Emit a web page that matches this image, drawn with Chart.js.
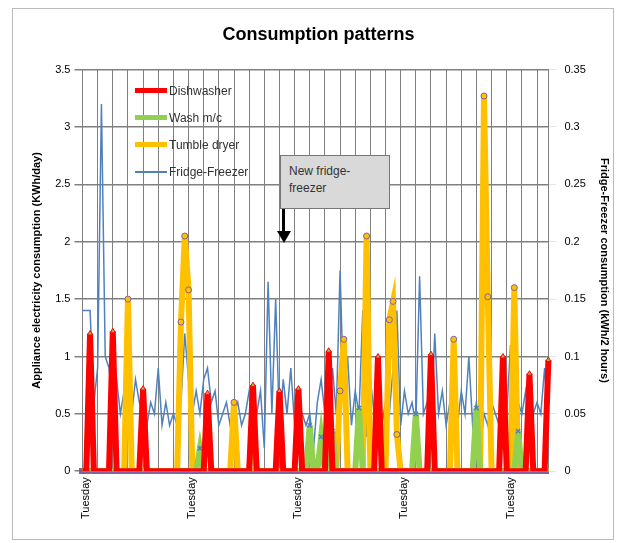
<!DOCTYPE html>
<html>
<head>
<meta charset="utf-8">
<script src="https://cdn.jsdelivr.net/npm/chart.js@4/dist/chart.umd.min.js"></script>
<style>
  body { margin: 0; background: #fff; }
  #wrap { position: relative; width: 619px; height: 543px; }
  #frame { position: absolute; left: 12px; top: 8px; width: 600px; height: 530px; border: 1px solid #bbb; pointer-events: none; }
  #note { position: absolute; left: 280px; top: 155px; width: 110px; height: 54px; background: #d9d9d9;
          border: 1px solid #777; font: 12px "Liberation Sans", Arial, sans-serif; color: #333; padding: 7px 8px; box-sizing: border-box; line-height: 17px; }
  #arrow { position: absolute; left: 282px; top: 209px; width: 3px; height: 24px; background: #000; }
  #head { position: absolute; left: 277px; top: 231px; width: 0; height: 0; border-left: 7px solid transparent;
          border-right: 7px solid transparent; border-top: 12px solid #000; }
  #legend { position: absolute; left: 135px; top: 77px; font: 12px "Liberation Sans", Arial, sans-serif; color: #333; }
  #legend div { height: 27px; display: flex; align-items: center; }
  #legend span.sw { display: inline-block; width: 32px; height: 5px; margin-right: 2px; }
</style>
</head>
<body>
<div id="wrap">
<canvas id="chart-1" width="619" height="543"></canvas>
<div id="frame"></div>
<div id="legend">
  <div><span class="sw" style="background:#ff0000"></span>Dishwasher</div>
  <div><span class="sw" style="background:#92d050"></span>Wash m/c</div>
  <div><span class="sw" style="background:#ffc000"></span>Tumble dryer</div>
  <div><span class="sw" style="background:#4f81bd;height:2px"></span>Fridge-Freezer</div>
</div>
<div id="note">New fridge-<br>freezer</div>
<div id="arrow"></div><div id="head"></div>
</div>
<script>
// 6-hourly samples over ~31 days
const labels = [];
for (let i = 0; i < 124; i++) labels.push(i % 28 === 1 ? 'Tuesday' : '');

const dishwasher = [0,0,1.2,0,0,0,0,0,1.22,0,0,0,0,0,0,0,0.72,0,0,0,0,0,0,0,0,0,0,0,0,0,0,0,0,0.68,0,0,0,0,0,0,0,0,0,0,0,0.75,0,0,0,0,0,0,0.7,0,0,0,0,0.72,0,0,0,0,0,0,0,1.05,0,0,0,0,0,0,0,0,0,0,0,0,1.0,0,0,0,0,0,0,0,0,0,0,0,0,0,1.02,0,0,0,0,0,0,0,0,0,0,0,0,0,0,0,0,0,0,1.0,0,0,0,0,0,0,0.85,0,0,0,0,0.97];
const washMc = [0,0,0,0,0,0,0,0,0,0,0,0,0,0,0,0,0,0,0,0,0,0,0,0,0,0,0,0,0,0,0,0.2,0,0,0,0,0,0,0,0,0,0,0,0,0,0.35,0,0,0,0,0,0,0,0,0,0,0,0,0,0,0.4,0,0,0.3,0,0,0.35,0,0,0,0,0,0,0.55,0,0,0,0,0,0,0,0,0,0,0,0,0,0,0.5,0,0,0,0,0,0,0,0,0,0,0,0,0,0,0,0.55,0,0,0,0,0,0,0,0,0,0,0.35,0,0,0,0,0,0,0,0];
const tumbleDryer = [0,0,0,0,0,0,0,0,0,0,0,0,1.5,0,0,0,0,0,0,0,0,0,0,0,0,0,1.3,2.05,1.58,0,0,0,0,0,0,0,0,0,0,0,0.6,0,0,0,0,0,0,0,0,0,0,0,0,0,0,0,0,0,0,0,0,0,0,0,0,0,0,0,0.7,1.15,0,0,0,0,0,2.05,0,0,0,0,0,1.32,1.48,0.32,0,0,0,0,0,0,0,0,0,0,0,0,0,0,1.15,0,0,0,0,0,0,0,3.27,1.52,0,0,0,0,0,0,1.6,0,0,0,0,0,0,0,0,0,0];
const fridgeFreezer = [0.14,0.14,0.14,0.06,0.09,0.32,0.1,0.09,0.06,0.08,0.05,0.07,0.06,0.05,0.08,0.06,0.05,0.04,0.06,0.05,0.09,0.04,0.06,0.04,0.05,0.04,0.06,0.12,0.08,0.05,0.07,0.05,0.08,0.09,0.06,0.07,0.04,0.05,0.06,0.04,0.05,0.06,0.04,0.05,0.07,0.06,0.05,0.07,0.02,0.165,0.05,0.15,0.04,0.08,0.05,0.09,0.04,0.06,0.05,0.04,0.05,0.02,0.06,0.08,0.05,0.04,0.09,0.05,0.175,0.06,0.1,0.04,0.07,0.05,0.14,0.03,0.08,0.05,0.07,0.04,0.06,0.05,0.09,0.14,0.04,0.07,0.05,0.06,0.04,0.17,0.05,0.06,0.04,0.12,0.05,0.07,0.04,0.06,0.05,0.04,0.07,0.05,0.1,0.04,0.06,0.02,0.05,0.04,0.06,0.05,0.04,0.07,0.05,0.11,0.04,0.06,0.05,0.07,0.04,0.05,0.06,0.05,0.09,0.04];

const pr = ctx => (ctx.raw > 0 ? 3 : 0);
const tickFont = { family: 'Liberation Sans', size: 11 };
new Chart(document.getElementById('chart-1').getContext('2d'), {
  type: 'line',
  data: {
    labels: labels,
    datasets: [
      { label: 'Dishwasher', data: dishwasher, yAxisID: 'y', borderColor: '#ff0000', backgroundColor: '#9bbb59', pointBorderColor: '#ff0000', pointBorderWidth: 1, borderWidth: 6, pointStyle: 'triangle', pointRadius: pr, tension: 0 },
      { label: 'Wash m/c', data: washMc, yAxisID: 'y', borderColor: '#92d050', backgroundColor: '#4f81bd', pointBorderColor: '#4f81bd', pointBorderWidth: 1.5, borderWidth: 6, pointStyle: 'crossRot', pointRadius: pr, tension: 0 },
      { label: 'Tumble dryer', data: tumbleDryer, yAxisID: 'y', borderColor: '#ffc000', backgroundColor: '#ffc000', pointBorderColor: '#8064a2', pointBorderWidth: 1, borderWidth: 6, pointStyle: 'circle', pointRadius: pr, tension: 0 },
      { label: 'Fridge-Freezer', data: fridgeFreezer, yAxisID: 'y2', borderColor: '#4f81bd', backgroundColor: '#4f81bd', borderWidth: 1.5, pointRadius: 0, tension: 0 }
    ]
  },
  options: {
    responsive: false,
    animation: false,
    layout: { padding: { left: 22, right: 4, top: 8, bottom: 18 } },
    plugins: {
      title: { display: true, text: 'Consumption patterns', color: '#000', font: { family: 'Liberation Sans', size: 18, weight: 'bold' }, padding: { top: 16, bottom: 24 } },
      legend: { display: false },
      tooltip: { enabled: false }
    },
    scales: {
      x: {
        grid: { color: '#808080', lineWidth: ctx => (ctx.index % 4 === 0 ? 1 : 0), drawTicks: false },
        border: { color: '#8064a2', width: 6 },
        ticks: { autoSkip: false, maxRotation: 90, minRotation: 90, color: '#000', font: tickFont, padding: 6 }
      },
      y: {
        position: 'left', min: 0, max: 3.5,
        ticks: { stepSize: 0.5, color: '#000', font: tickFont, padding: 4, callback: v => v },
        grid: { color: '#808080', lineWidth: 1.5 },
        border: { color: '#808080' },
        title: { display: true, text: 'Appliance electricity consumption (KWh/day)', color: '#000', font: { family: 'Liberation Sans', size: 11, weight: 'bold' }, padding: 8 }
      },
      y2: {
        position: 'right', min: 0, max: 0.35,
        ticks: { stepSize: 0.05, color: '#000', font: tickFont, padding: 8, callback: v => +v.toFixed(2) },
        grid: { drawOnChartArea: false },
        border: { color: '#808080' },
        title: { display: true, text: 'Fridge-Freezer consumption (kWh/2 hours)', color: '#000', font: { family: 'Liberation Sans', size: 11, weight: 'bold' }, padding: 4 }
      }
    }
  }
});
</script>
</body>
</html>
